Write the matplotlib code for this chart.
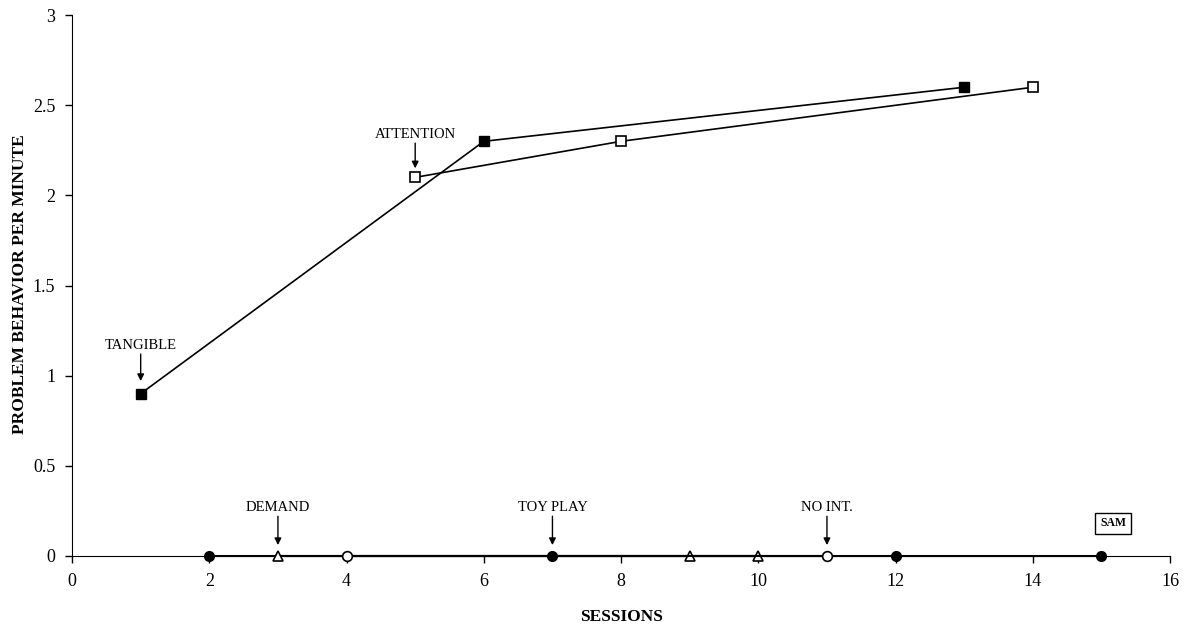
import matplotlib.pyplot as plt

plt.rcParams['font.family'] = ['Liberation Serif', 'DejaVu Serif']

# sessions and rates per condition
tangible_x = [1, 6, 13]
tangible_y = [0.9, 2.3, 2.6]
attention_x = [5, 8, 14]
attention_y = [2.1, 2.3, 2.6]
toy_x = [2, 7, 12, 15]
toy_y = [0, 0, 0, 0]
demand_x = [3, 9, 10]
demand_y = [0, 0, 0]
noint_x = [4, 11]
noint_y = [0, 0]

fig = plt.figure(figsize=(11.89, 6.31), dpi=100)
ax = fig.add_axes([0.0606, 0.119, 0.9235, 0.857])

ax.plot(tangible_x, tangible_y, color='black', lw=1.2, marker='s', ms=7,
        mfc='black', mec='black', clip_on=False, zorder=3)
ax.plot(attention_x, attention_y, color='black', lw=1.2, marker='s', ms=7,
        mfc='white', mec='black', mew=1.2, clip_on=False, zorder=3)
ax.plot(toy_x, toy_y, color='black', lw=1.5, marker='o', ms=7,
        mfc='black', mec='black', clip_on=False, zorder=3)
ax.plot(demand_x, demand_y, color='black', lw=1.5, marker='^', ms=7,
        mfc='white', mec='black', mew=1.2, clip_on=False, zorder=4)
ax.plot(noint_x, noint_y, color='black', lw=1.5, marker='o', ms=7,
        mfc='white', mec='black', mew=1.2, clip_on=False, zorder=4)

ax.set_xlim(0, 16)
ax.set_ylim(0, 3)
ax.set_xticks(range(0, 17, 2))
ax.set_yticks([0, 0.5, 1, 1.5, 2, 2.5, 3])
ax.set_yticklabels(['0', '0.5', '1', '1.5', '2', '2.5', '3'])
ax.spines['top'].set_visible(False)
ax.spines['right'].set_visible(False)
ax.tick_params(labelsize=13, length=5, width=1, pad=7)

ax.set_xlabel('SESSIONS', fontweight='bold', fontsize=12.5, labelpad=14)
fig.text(20 / 1189, 0.55, 'PROBLEM BEHAVIOR PER MINUTE', rotation=90,
         ha='center', va='center', fontweight='bold', fontsize=12.5)

labels = [('TANGIBLE', 1, 1.17, 1.12, 0.97),
          ('ATTENTION', 5, 2.34, 2.29, 2.15),
          ('DEMAND', 3, 0.27, 0.22, 0.06),
          ('TOY PLAY', 7, 0.27, 0.22, 0.06),
          ('NO INT.', 11, 0.27, 0.22, 0.06)]
for txt, x, ty, a0, a1 in labels:
    ax.text(x, ty, txt, ha='center', va='center', fontsize=10.5)
    ax.annotate('', xy=(x, a1), xytext=(x, a0),
                arrowprops=dict(arrowstyle='-|>', color='black', lw=1,
                                mutation_scale=10, shrinkA=0, shrinkB=0))

ax.text(15.17, 0.18, 'SAM', ha='center', va='center', fontsize=8.5,
        fontweight='bold',
        bbox=dict(boxstyle='square,pad=0.4', fc='white', ec='black', lw=1))

fig.savefig('out.png', dpi=100)
